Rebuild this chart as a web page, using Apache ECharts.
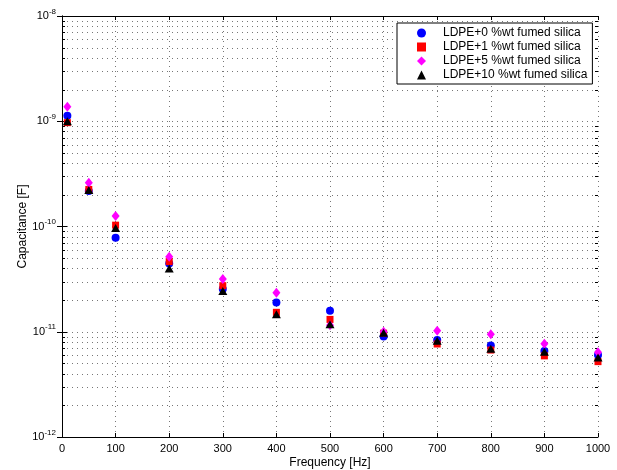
<!DOCTYPE html>
<html><head><meta charset="utf-8">
<script src="https://cdn.jsdelivr.net/npm/echarts@6/dist/echarts.min.js"></script>
<style>html,body{margin:0;padding:0;background:#fff}#c{width:617px;height:470px}</style>
</head><body><div id="c"></div>
<script>
const freq = [10, 50, 100, 200, 300, 400, 500, 600, 700, 800, 900, 1000];
const ldpe0  = [1.13e-9, 2.17e-10, 7.8e-11, 4.45e-11, 2.55e-11, 1.90e-11, 1.58e-11, 9.0e-12, 8.35e-12, 7.4e-12, 6.55e-12, 6.0e-12];
const ldpe1  = [0.97e-9, 2.25e-10, 1.03e-10, 4.64e-11, 2.74e-11, 1.53e-11, 1.31e-11, 9.7e-12, 7.65e-12, 6.7e-12, 5.9e-12, 5.2e-12];
const ldpe5  = [1.37e-9, 2.6e-10, 1.26e-10, 5.15e-11, 3.17e-11, 2.35e-11, 1.15e-11, 1.0e-11, 1.02e-11, 9.45e-12, 7.7e-12, 6.4e-12];
const ldpe10 = [1.0e-9, 2.22e-10, 9.7e-11, 4.0e-11, 2.44e-11, 1.47e-11, 1.18e-11, 9.8e-12, 8.2e-12, 6.9e-12, 6.45e-12, 5.7e-12];
const seriesNames = ['LDPE+0 %wt fumed silica', 'LDPE+1 %wt fumed silica', 'LDPE+5 %wt fumed silica', 'LDPE+10 %wt fumed silica'];
const xMin = 0, xMax = 1000, xStep = 100;
const yDecadeMin = -12, yDecadeMax = -8;
const minorMultipliers = [2, 3, 4, 5, 6, 7, 8, 9];

const FONT = 'Liberation Sans, Arial, Helvetica, sans-serif';
const minorVals = [];
for (let e = yDecadeMin; e < yDecadeMax; e++) {
  for (const k of minorMultipliers) minorVals.push(k * Math.pow(10, e));
}
const pair = arr => freq.map((f, i) => [f, arr[i]]);

const chart = echarts.init(document.getElementById('c'), null, {renderer: 'canvas'});
const gridLine = {show: true, lineStyle: {color: '#777', width: 1, type: [1, 4]}};
const xAxisBase = {
  type: 'value', min: xMin, max: xMax, interval: xStep,
  axisLine: {show: true, onZero: false, lineStyle: {color: '#000', width: 1}},
  axisTick: {show: true, inside: true, length: 4, lineStyle: {color: '#000'}},
};
const yAxisBase = {
  type: 'log', logBase: 10, min: Math.pow(10, yDecadeMin), max: Math.pow(10, yDecadeMax),
  axisLine: {show: true, lineStyle: {color: '#000', width: 1}},
  axisTick: {show: true, inside: true, length: 5, lineStyle: {color: '#000'}},
};
const mk = (name, data, symbol, size, color) => ({
  name, type: 'scatter', data: pair(data), symbol, symbolSize: size,
  itemStyle: {color, opacity: 1}, z: 3, animation: false
});

chart.setOption({
  animation: false,
  backgroundColor: '#fff',
  textStyle: {fontFamily: FONT},
  grid: {left: 62, right: 19, top: 16, bottom: 33, containLabel: false, outerBoundsMode: 'none'},
  xAxis: [
    Object.assign({}, xAxisBase, {
      position: 'bottom',
      name: 'Frequency [Hz]', nameLocation: 'middle', nameGap: 20, nameMoveOverlap: false,
      nameTextStyle: {fontSize: 12, color: '#000', fontFamily: FONT},
      axisLabel: {fontSize: 11, color: '#000', margin: 6, fontFamily: FONT, formatter: v => String(v)},
      splitLine: gridLine
    }),
    Object.assign({}, xAxisBase, {
      position: 'top', axisLabel: {show: false}, splitLine: {show: false}
    })
  ],
  yAxis: [
    Object.assign({}, yAxisBase, {
      position: 'left',
      name: 'Capacitance [F]', nameLocation: 'middle', nameGap: 33, nameMoveOverlap: false,
      nameTextStyle: {fontSize: 12, color: '#000', fontFamily: FONT},
      axisLabel: {
        margin: 6, color: '#000', fontFamily: FONT,
        formatter: v => '{b|10}{s|' + Math.round(Math.log10(v)) + '}',
        rich: {
          b: {fontSize: 11, color: '#000', fontFamily: FONT},
          s: {fontSize: 8, color: '#000', fontFamily: FONT, verticalAlign: 'bottom', padding: [0, 0, 9, 0]}
        }
      },
      splitLine: gridLine
    }),
    Object.assign({}, yAxisBase, {
      position: 'right', axisLabel: {show: false}, splitLine: {show: false}
    })
  ],
  legend: {
    data: seriesNames,
    orient: 'vertical', left: 397, top: 23,
    backgroundColor: '#fff', borderColor: '#000', borderWidth: 1,
    padding: [4, 5, 3, 20], itemGap: 2, itemWidth: 9, itemHeight: 9,
    selectedMode: false,
    formatter: n => '{g|}' + n,
    textStyle: {fontSize: 12, color: '#000', fontFamily: FONT, rich: {g: {width: 12}}}
  },
  series: [
    {
      type: 'custom', silent: true, z: 1, xAxisIndex: 0, yAxisIndex: 0,
      data: minorVals.map(v => [0, v]),
      renderItem: (params, api) => {
        const cs = params.coordSys;
        const y = Math.round(api.coord([0, api.value(1)])[1]) + 0.5;
        const x1 = cs.x, x2 = cs.x + cs.width;
        return {type: 'group', children: [
          {type: 'line', shape: {x1: x1, y1: y, x2: x2, y2: y}, style: {stroke: '#777', lineWidth: 1, lineDash: [1, 4]}},
          {type: 'line', shape: {x1: x1, y1: y, x2: x1 + 3, y2: y}, style: {stroke: '#000', lineWidth: 1}},
          {type: 'line', shape: {x1: x2 - 3, y1: y, x2: x2, y2: y}, style: {stroke: '#000', lineWidth: 1}}
        ]};
      }
    },
    mk(seriesNames[0], ldpe0, 'circle', 8, '#0000ff'),
    mk(seriesNames[1], ldpe1, 'rect', 7, '#ff0000'),
    mk(seriesNames[2], ldpe5, 'diamond', [8, 10], '#ff00ff'),
    mk(seriesNames[3], ldpe10, 'triangle', [9, 8], '#000000')
  ]
});
</script></body></html>
